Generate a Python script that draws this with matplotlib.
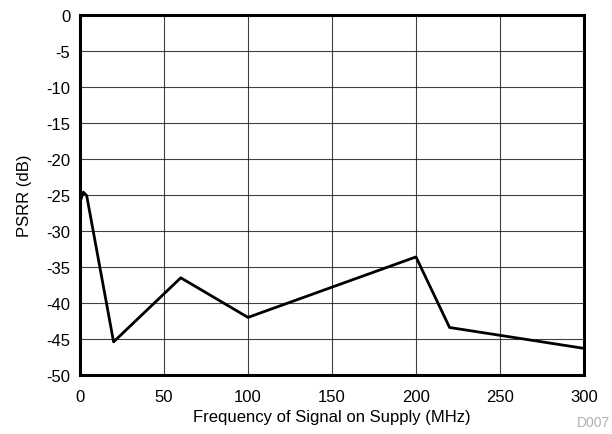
import matplotlib

matplotlib.use("Agg")
import matplotlib.pyplot as plt  # noqa: E402

plt.rcParams["font.family"] = ["Liberation Sans", "DejaVu Sans"]
plt.rcParams["axes.unicode_minus"] = False

# PSRR vs supply-noise frequency
freq_mhz = [0, 2, 4, 20, 60, 100, 200, 220, 300]
psrr_db = [-26.0, -24.6, -25.1, -45.4, -36.5, -42.0, -33.6, -43.4, -46.3]

x_ticks = [0, 50, 100, 150, 200, 250, 300]
y_ticks = [0, -5, -10, -15, -20, -25, -30, -35, -40, -45, -50]

fig = plt.figure(figsize=(6.12, 4.35), dpi=100)
ax = fig.add_axes([0.1307, 0.1356, 0.8235, 0.8277])

ax.plot(freq_mhz, psrr_db, color="black", linewidth=2.0, zorder=3)

ax.set_xlim(0, 300)
ax.set_ylim(-50, 0)
ax.set_xticks(x_ticks)
ax.set_yticks(y_ticks)
ax.set_xticklabels([str(v) for v in x_ticks])
ax.set_yticklabels([str(v) for v in y_ticks])
ax.tick_params(length=0, labelsize=12)
ax.tick_params(axis="x", pad=10)
ax.tick_params(axis="y", pad=7)
ax.grid(True, color="black", linewidth=0.8, alpha=0.75)
for spine in ax.spines.values():
    spine.set_linewidth(2.2)

ax.set_xlabel("Frequency of Signal on Supply (MHz)", fontsize=12, labelpad=4)
ax.set_ylabel("PSRR (dB)", fontsize=12, labelpad=10)

fig.text(0.997, 0.012, "D007", ha="right", va="bottom", fontsize=10, color="#b0b0b0")

fig.savefig("out.png", dpi=100)
